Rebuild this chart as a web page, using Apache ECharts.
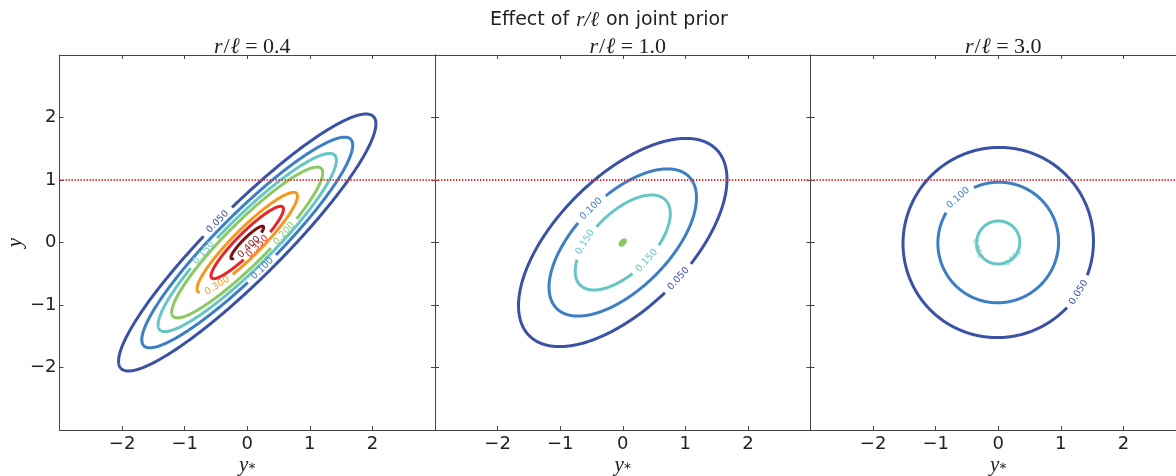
<!DOCTYPE html>
<html><head><meta charset="utf-8">
<script src="https://cdn.jsdelivr.net/npm/echarts@6/dist/echarts.min.js"></script>
<style>html,body{margin:0;padding:0;background:#fff;}#c{width:1176px;height:476px;}</style>
</head><body><div id="c"></div>
<script>
// ---------------- data ----------------
const ratios = ['0.4', '1.0', '3.0'];
const tickValues = [-2, -1, 0, 1, 2];
const axisMin = -3, axisMax = 3;
const thresholdY = 1;
// contour ellipses (density levels, semi-axes along / across the 45° diagonal)
const levelsA = [0.05, 0.10, 0.15, 0.20, 0.30, 0.35, 0.40];
const majorA  = [2.851, 2.337, 1.976, 1.673, 1.113, 0.803, 0.363];
const minorA  = [0.570, 0.467, 0.395, 0.334, 0.223, 0.161, 0.073];
const levelsB = [0.05, 0.10, 0.15, 0.20];
const majorB  = [2.111, 1.493, 0.963, 0.054];
const minorB  = [1.045, 0.739, 0.477, 0.027];
const levelsC = [0.05, 0.10, 0.15];
const majorC  = [1.530, 0.970, 0.346];
const minorC  = [1.513, 0.959, 0.343];

// ---------------- styles / placement ----------------
const levelColor = {
  '0.05': '#3a52a4', '0.1': '#3d7fc3', '0.15': '#66c6c5', '0.2': '#8cc864',
  '0.3': '#f7981d', '0.35': '#e5272b', '0.4': '#7d1416'
};
// label positions as ellipse parameter angle (degrees)
const labelAt = [
  {'0.05': [92], '0.1': [-93], '0.15': [108], '0.2': [-72], '0.3': [-138], '0.35': [-85], '0.4': [-95]},
  {'0.05': [-84], '0.1': [89], '0.15': [116, -86]},
  {'0.05': [-77], '0.1': [87], '0.15': [151, -92]}
];
const noGap = {'2:0.15': true};
const filled = {'1:0.2': true};

const panels = [
  {levels: levelsA, major: majorA, minor: minorA},
  {levels: levelsB, major: majorB, minor: minorB},
  {levels: levelsC, major: majorC, minor: minorC}
];
const gridLeft = [59.5, 435, 810.5];
const gridW = 375.5, gridTop = 55, gridH = 375;
const axisColor = '#444';
const sans = '"DejaVu Sans", sans-serif';
const serif = '"Liberation Serif", "DejaVu Serif", serif';

function d2(a, b) { return Math.hypot(a[0] - b[0], a[1] - b[1]); }

function makeRender(panel) {
  return function (params, api) {
    const idx = api.value(2);
    const P = panels[panel];
    const lv = P.levels[idx], A = P.major[idx], B = P.minor[idx];
    const key = String(lv);
    const color = levelColor[key];
    const N = 720, c = Math.SQRT1_2;
    const pts = [];
    for (let k = 0; k < N; k++) {
      const t = 2 * Math.PI * k / N;
      const u = A * Math.cos(t), v = B * Math.sin(t);
      pts.push(api.coord([(u - v) * c, (u + v) * c]));
    }
    const s = [0];
    for (let k = 1; k < N; k++) s.push(s[k - 1] + d2(pts[k], pts[k - 1]));
    const L = s[N - 1] + d2(pts[0], pts[N - 1]);
    const labs = labelAt[panel][key] || [];
    const txt = lv.toFixed(3);
    const gap = !noGap[panel + ':' + key];
    const fs = gap ? 9.5 : 7;
    const half = gap ? txt.length * 0.57 * fs / 2 + 5.5 : 0;
    const keep = new Array(N).fill(true);
    const children = [];
    labs.forEach(function (deg) {
      let t = deg * Math.PI / 180;
      t = ((t % (2 * Math.PI)) + 2 * Math.PI) % (2 * Math.PI);
      const k0 = Math.round(t / (2 * Math.PI) * N) % N;
      const sL = s[k0];
      for (let k = 0; k < N; k++) {
        let d = Math.abs(s[k] - sL); d = Math.min(d, L - d);
        if (d < half) keep[k] = false;
      }
      const pa = pts[(k0 - 2 + N) % N], pb = pts[(k0 + 2) % N];
      let ang = Math.atan2(-(pb[1] - pa[1]), pb[0] - pa[0]);
      if (ang > Math.PI / 2) ang -= Math.PI;
      if (ang < -Math.PI / 2) ang += Math.PI;
      children.push({
        type: 'text', x: pts[k0][0], y: pts[k0][1], rotation: ang, z2: 10,
        style: {text: txt, fill: color, fontSize: fs, fontFamily: sans, align: 'center', verticalAlign: 'middle'}
      });
    });
    const lineStyle = {fill: null, stroke: color, lineWidth: 3};
    if (keep.every(Boolean)) {
      children.unshift({type: 'polygon', shape: {points: pts},
        style: {fill: filled[panel + ':' + key] ? color : null, stroke: color, lineWidth: 3}});
    } else {
      const start = keep.indexOf(false);
      let cur = null;
      for (let j = 1; j <= N; j++) {
        const k = (start + j) % N;
        if (keep[k]) { if (!cur) cur = []; cur.push(pts[k]); }
        else if (cur) { children.unshift({type: 'polyline', shape: {points: cur}, style: lineStyle}); cur = null; }
      }
      if (cur) children.unshift({type: 'polyline', shape: {points: cur}, style: lineStyle});
    }
    return {type: 'group', children: children};
  };
}

const fmt = function (v) { return tickValues.indexOf(v) >= 0 ? String(v).replace('-', '\u2212') : ''; };
const tick = {show: true, inside: true, length: 4, lineStyle: {color: axisColor, width: 1}};
const line = {show: true, onZero: false, lineStyle: {color: axisColor, width: 1}};

const grids = [], xAxes = [], yAxes = [], series = [], titles = [];
titles.push({
  text: 'Effect of {m|r/ℓ} on joint prior', left: 604, top: 5, textAlign: 'center',
  textStyle: {fontFamily: sans, fontSize: 19, fontWeight: 'normal', color: '#222',
    rich: {m: {fontFamily: serif, fontStyle: 'italic', fontSize: 21, color: '#222', padding: [0, 1, 0, 1]}}}
});
for (let g = 0; g < 3; g++) {
  grids.push({left: gridLeft[g], top: gridTop, width: gridW, height: gridH, containLabel: false, outerBoundsMode: 'none'});
  const base = {gridIndex: g, type: 'value', min: axisMin, max: axisMax, interval: 1,
    axisLine: line, axisTick: tick, splitLine: {show: false}};
  xAxes.push(Object.assign({}, base, {position: 'bottom',
    axisLabel: {show: true, formatter: fmt, fontFamily: sans, fontSize: 18, color: '#222', margin: 5},
    name: '{a|y}{b|\u204e}', nameLocation: 'middle', nameGap: 25, nameMoveOverlap: false,
    nameTextStyle: {rich: {a: {fontFamily: serif, fontStyle: 'italic', fontSize: 21, color: '#222'},
      b: {fontFamily: sans, fontSize: 14, color: '#222'}}}}));
  xAxes.push(Object.assign({}, base, {position: 'top', axisLabel: {show: false}}));
  yAxes.push(Object.assign({}, base, {position: 'left',
    axisLabel: {show: g === 0, formatter: fmt, fontFamily: sans, fontSize: 18, color: '#222', margin: 3},
    name: g === 0 ? 'y' : '', nameLocation: 'middle', nameGap: 34, nameRotate: 90, nameMoveOverlap: false,
    nameTextStyle: {fontFamily: serif, fontStyle: 'italic', fontSize: 21, color: '#222'}}));
  yAxes.push(Object.assign({}, base, {position: 'right', axisLabel: {show: false}}));
  titles.push({
    text: '{i|r}{s|/}{i|ℓ}{n| = ' + ratios[g] + '}', left: gridLeft[g] + gridW / 2, top: 31, textAlign: 'center',
    textStyle: {fontFamily: serif, fontSize: 22, fontWeight: 'normal', color: '#222',
      rich: {i: {fontFamily: serif, fontStyle: 'italic', fontSize: 22, color: '#222'},
        s: {fontFamily: serif, fontSize: 22, color: '#222', padding: [0, 1, 0, 1]},
        n: {fontFamily: serif, fontSize: 22, color: '#222'}}}
  });
  series.push({
    type: 'custom', xAxisIndex: 2 * g, yAxisIndex: 2 * g, renderItem: makeRender(g),
    encode: {x: 0, y: 1}, data: panels[g].levels.map(function (l, i) { return [0, 0, i]; }), z: 2
  });
  series.push({
    type: 'line', xAxisIndex: 2 * g, yAxisIndex: 2 * g, symbol: 'none', z: 5,
    data: [[axisMin, thresholdY], [axisMax, thresholdY]],
    lineStyle: {color: '#e8262a', width: 2, type: [1.3, 1.7]}
  });
}

const chart = echarts.init(document.getElementById('c'), null, {renderer: 'canvas'});
chart.setOption({
  animation: false, backgroundColor: '#fff',
  title: titles, grid: grids, xAxis: xAxes, yAxis: yAxes, series: series
});
</script></body></html>
